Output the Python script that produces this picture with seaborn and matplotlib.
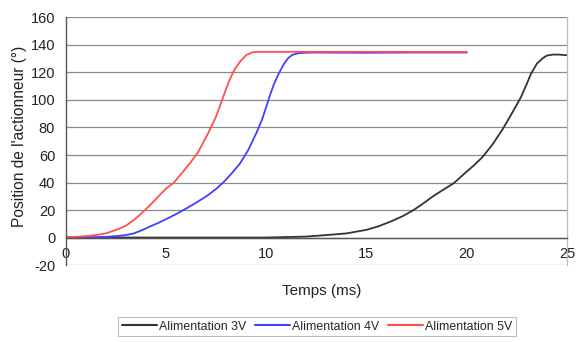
import seaborn as sns
import pandas as pd
import matplotlib.pyplot as plt

# valeurs
t_3v = [0, 5, 10, 12, 13, 14, 15, 15.6, 16.2, 16.8, 17.35, 17.8, 18.3, 18.8, 19.35, 20, 20.4, 20.8,
        21.3, 21.8, 22.2, 22.7, 23.0, 23.2, 23.5, 23.8, 24.0, 24.3, 24.6, 25]
pos_3v = [0, 0, 0, 0.7, 1.8, 3, 5.6, 8.2, 11.6, 15.5, 20, 24.5, 29.8, 34.5, 39.5, 48, 53, 58.8,
          68, 79, 89, 102, 112, 119, 126.5, 130.5, 132.3, 133, 133, 132.5]

t_4v = [0, 1, 2, 2.5, 3, 3.4, 3.8, 4.2, 4.6, 5.0, 5.5, 6.0, 6.5, 7.0, 7.5, 7.9, 8.3, 8.7, 9.1, 9.5,
        9.8, 10.0, 10.2, 10.4, 10.65, 10.9, 11.1, 11.3, 11.6, 12.0, 12.5, 15, 17, 20]
pos_4v = [0, 0, 0.5, 1, 1.8, 3, 5.3, 8, 10.5, 13.3, 17, 21, 25.3, 29.8, 35.3, 40.6, 47, 54, 63.5, 75.7,
          86, 95, 104, 112, 120, 126.6, 130.5, 132.8, 134, 134.4, 134.5, 134.3, 134.5, 134.5]

t_5v = [0, 1, 1.5, 2, 2.5, 3, 3.4, 3.7, 4.1, 4.5, 5.0, 5.4, 5.8, 6.2, 6.6, 7.1, 7.5, 7.8, 8.1, 8.4,
        8.7, 9.0, 9.3, 9.6, 10, 12, 15, 20]
pos_5v = [0, 1, 1.8, 3, 5.5, 8.5, 12.8, 16.5, 22, 28, 35.5, 40, 47, 54, 62, 75.7, 88, 100, 112, 121.7,
          128, 132.6, 134.6, 135, 135, 135, 135, 135]

series = ["Alimentation 3V", "Alimentation 4V", "Alimentation 5V"]
colors = ["#333333", "#4040ff", "#ff5050"]

df = pd.concat([
    pd.DataFrame({"t": t_3v, "pos": pos_3v, "serie": series[0]}),
    pd.DataFrame({"t": t_4v, "pos": pos_4v, "serie": series[1]}),
    pd.DataFrame({"t": t_5v, "pos": pos_5v, "serie": series[2]}),
])

sns.set_theme(style="white")
plt.rcParams['font.family'] = ['Liberation Sans', 'DejaVu Sans']
plt.rcParams['axes.unicode_minus'] = False

fig = plt.figure(figsize=(5.81, 3.42), dpi=100)
ax = fig.add_axes([0.113, 0.225, 0.863, 0.724])

sns.lineplot(data=df, x="t", y="pos", hue="serie", palette=colors, ax=ax,
             linewidth=1.3, legend=False, sort=False)

ax.set_xlim(0, 25)
ax.set_ylim(-20, 160)
ax.set_xticks([0, 5, 10, 15, 20, 25])
ax.set_yticks(range(-20, 161, 20))
ax.yaxis.grid(True, color="#8a8a8a", linewidth=0.9)
ax.xaxis.grid(False)

ax.spines["top"].set_visible(False)
ax.spines["right"].set_color("#bbbbbb")
ax.spines["right"].set_linewidth(0.9)
ax.spines["left"].set_color("#555555")
ax.spines["left"].set_linewidth(1.0)
ax.spines["bottom"].set_position(("data", 0))
ax.spines["bottom"].set_color("#555555")
ax.spines["bottom"].set_linewidth(1.0)

ax.tick_params(axis="both", which="both", labelsize=10.5, colors="#333333",
               direction="out", length=4, width=0.8)
ax.tick_params(axis="x", pad=3)
for lbl in ax.get_xticklabels() + ax.get_yticklabels():
    lbl.set_color("#222222")

ax.set_xlabel("")
ax.set_ylabel("")
fig.text(0.033, 0.6, "Position de l'actionneur (°)", rotation=90, ha="center", va="center",
         fontsize=11.2, color="#222222")
fig.text(0.553, 0.15, "Temps (ms)", ha="center", va="center", fontsize=11, color="#222222")

handles = [plt.Line2D([], [], color=c, linewidth=1.5) for c in colors]
leg = fig.legend(handles, series, loc="center", bbox_to_anchor=(0.546, 0.045), ncol=3,
                 fontsize=8.9, frameon=True, fancybox=False, handlelength=2.8,
                 handletextpad=0.2, columnspacing=0.7, borderpad=0.3)
leg.get_frame().set_edgecolor("#aaaaaa")
leg.get_frame().set_linewidth(0.8)

plt.savefig("out.png", dpi=100)
